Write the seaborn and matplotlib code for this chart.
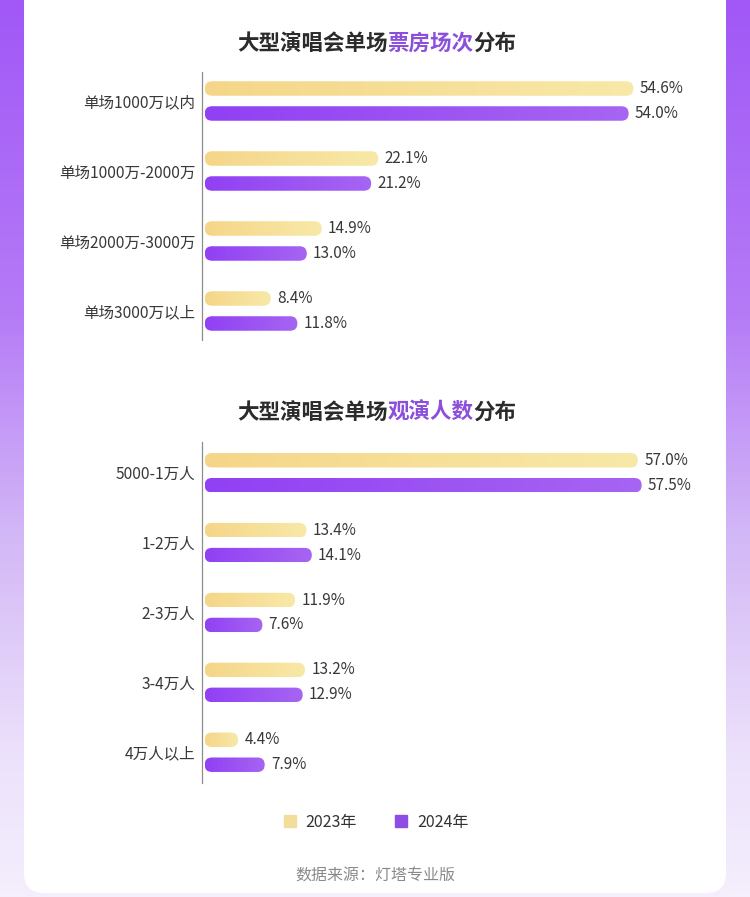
import numpy as np
import pandas as pd
import seaborn as sns
import matplotlib.pyplot as plt
from matplotlib.patches import FancyBboxPatch
from matplotlib.colors import LinearSegmentedColormap
from matplotlib.lines import Line2D

# 데이터
years = ["2023年", "2024年"]
box_cats = ["单场1000万以内", "单场1000万-2000万", "单场2000万-3000万", "单场3000万以上"]
box_2023 = [54.6, 22.1, 14.9, 8.4]
box_2024 = [54.0, 21.2, 13.0, 11.8]
aud_cats = ["5000-1万人", "1-2万人", "2-3万人", "3-4万人", "4万人以上"]
aud_2023 = [57.0, 13.4, 11.9, 13.2, 4.4]
aud_2024 = [57.5, 14.1, 7.6, 12.9, 7.9]

sns.set_theme(style="white")
plt.rcParams["font.family"] = ["Noto Sans CJK SC", "DejaVu Sans"]

W, H = 750, 897
fig = plt.figure(figsize=(W / 100, H / 100), dpi=100)

# 배경 그라데이션 + 흰색 카드
bg = fig.add_axes([0, 0, 1, 1], zorder=-10)
bg_cmap = LinearSegmentedColormap.from_list(
    "bg", [(0, "#a158f6"), (0.35, "#b57bf6"), (0.6, "#d3b8f6"),
           (0.85, "#ede2fb"), (1, "#f4eefd")])
bg.imshow(np.linspace(0, 1, 256)[:, None], cmap=bg_cmap, aspect="auto",
          extent=(0, W, H, 0))
bg.add_patch(FancyBboxPatch((24, -40), 702, 933,
                            boxstyle="round,pad=0,rounding_size=20",
                            fc="white", ec="none"))
bg.set_xlim(0, W)
bg.set_ylim(H, 0)
bg.axis("off")

yellow = LinearSegmentedColormap.from_list("y", ["#f5d688", "#f8e9a8"])
purple = LinearSegmentedColormap.from_list("p", ["#9140f4", "#a665f2"])


def px_axes(left, top, right, bottom):
    return fig.add_axes([left / W, 1 - bottom / H, (right - left) / W, (bottom - top) / H])


def draw_chart(ax, cats, v23, v24, xmax, pad_y):
    df = pd.DataFrame({
        "cat": cats * 2,
        "value": v23 + v24,
        "year": [years[0]] * len(cats) + [years[1]] * len(cats),
    })
    sns.barplot(data=df, y="cat", x="value", hue="year", orient="h",
                width=0.714, gap=0.42, palette=["#f5d688", "#9140f4"],
                legend=False, ax=ax)
    xlim = (-0.35, xmax)
    ylim = (len(cats) - 1 + pad_y, -pad_y)
    bbox = ax.get_position()
    pxx = bbox.width * W / (xlim[1] - xlim[0])
    pxy = bbox.height * H / (ylim[0] - ylim[1])
    asp = pxx / pxy
    # 둥근 막대 + 가로 그라데이션
    for i, p in enumerate(list(ax.patches)):
        x, y, w, h = p.get_x(), p.get_y(), p.get_width(), p.get_height()
        r = min(h * pxy / 2 / pxx, w / 2)
        cmap = yellow if i < len(cats) else purple
        p.set_facecolor("none")
        p.set_edgecolor("none")
        rb = FancyBboxPatch((x, y), w, h,
                            boxstyle=f"round,pad=0,rounding_size={r}",
                            mutation_aspect=asp, fc="none", ec="none")
        ax.add_patch(rb)
        im = ax.imshow(np.linspace(0, 1, 256)[None, :], cmap=cmap, aspect="auto",
                       extent=(x, x + w, y + h, y), zorder=2)
        im.set_clip_path(rb)
    for c in ax.containers:
        ax.bar_label(c, fmt="%.1f%%", padding=4.5, fontsize=11, color="#383838")
    ax.set_xlim(*xlim)
    ax.set_ylim(*ylim)
    ax.set_xlabel("")
    ax.set_ylabel("")
    ax.set_xticks([])
    for s in ["top", "right", "bottom"]:
        ax.spines[s].set_visible(False)
    ax.spines["left"].set_color("#8c8c8c")
    ax.spines["left"].set_linewidth(0.9)
    ax.tick_params(axis="y", left=False, length=0, pad=5, labelsize=11.2,
                   labelcolor="#383838")
    ax.patch.set_alpha(0)


ax1 = px_axes(202, 71.6, 702, 340.4)
draw_chart(ax1, box_cats, box_2023, box_2024, 500 / 7.85 - 0.35, 0.42)
ax2 = px_axes(202, 442, 702, 783)
draw_chart(ax2, aud_cats, aud_2023, aud_2024, 500 / 7.6 - 0.35, 0.44)


def title(y_px, parts):
    last = fig.text(237 / W, 1 - y_px / H, parts[0][0], color=parts[0][1],
                    fontsize=15.5, fontweight="bold", ha="left", va="center")
    for txt, col in parts[1:]:
        last = fig.get_axes()[0].annotate(
            txt, xy=(1, 0.5), xycoords=last, ha="left", va="center",
            color=col, fontsize=15.5, fontweight="bold", annotation_clip=False)


title(43, [("大型演唱会单场", "#2b2b2b"), ("票房场次", "#8b4fdc"), ("分布", "#2b2b2b")])
title(412, [("大型演唱会单场", "#2b2b2b"), ("观演人数", "#8b4fdc"), ("分布", "#2b2b2b")])

handles = [Line2D([], [], marker="s", ls="", color="#f1de9a", markersize=8.5),
           Line2D([], [], marker="s", ls="", color="#8f4de6", markersize=8.5)]
fig.legend(handles, years, loc="center", bbox_to_anchor=(375 / W, 1 - 822 / H),
           ncol=2, frameon=False, columnspacing=2.25, handlelength=1.0,
           handletextpad=0.5, fontsize=11.5, labelcolor="#333333")

fig.text(375 / W, 1 - 876 / H, "数据来源：灯塔专业版", ha="center", va="center",
         color="#8a8a8a", fontsize=11.5)

fig.savefig("out.png", dpi=100)
